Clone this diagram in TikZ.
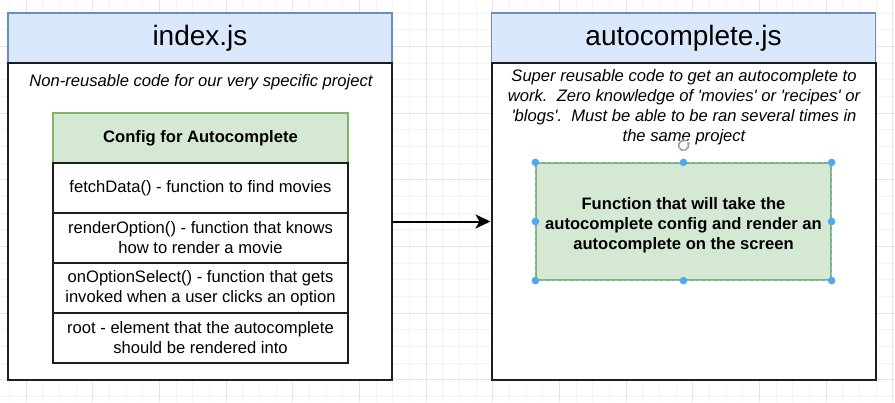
\documentclass[tikz,border=0pt]{standalone}
\usepackage{fontspec}
\setmainfont{Liberation Sans}
\usetikzlibrary{arrows.meta}
\definecolor{hdrblue}{HTML}{DAE8FC}
\definecolor{hdrblueline}{HTML}{6C8EBF}
\definecolor{cfggreen}{HTML}{D5E8D4}
\definecolor{cfggreenline}{HTML}{82B366}
\definecolor{handle}{HTML}{4DA9F2}
\definecolor{gridminor}{HTML}{F3F3F3}
\definecolor{gridmajor}{HTML}{E6E6E6}
\definecolor{boxline}{HTML}{1E1E1E}
\begin{document}
\begin{tikzpicture}[x=1pt,y=-1pt,
  hdr/.style={draw=hdrblueline, line width=1.2pt, fill=hdrblue, inner sep=0pt,
    minimum width=384pt, minimum height=50pt, font=\fontsize{28}{33}\selectfont},
  bodybox/.style={draw=boxline, line width=2pt, fill=white, inner sep=0pt,
    minimum width=384pt, minimum height=317pt},
  desc/.style={align=center, inner sep=0pt, font=\fontsize{16.6}{20}\selectfont\itshape},
  cfghdr/.style={draw=cfggreenline, line width=1.2pt, fill=cfggreen, inner sep=0pt,
    minimum width=295pt, minimum height=50pt, font=\fontsize{16.6}{20}\selectfont\bfseries},
  row/.style={draw=boxline, line width=1.5pt, fill=white, inner sep=0pt, align=center,
    minimum width=295pt, minimum height=50pt, font=\fontsize{16.6}{20}\selectfont},
  funcbox/.style={draw=cfggreenline, line width=1.2pt, fill=cfggreen, inner sep=0pt,
    minimum width=295pt, minimum height=117pt},
  functext/.style={align=center, inner sep=0pt, font=\fontsize{16.6}{20}\selectfont\bfseries},
  arr/.style={draw=black, line width=2pt, -{Stealth[length=15pt,width=14pt,inset=4pt]}},
  hdl/.style={fill=handle}
]
\useasboundingbox (0,0) rectangle (895,402);
\fill[white] (0,0) rectangle (895,402);
% grid
\foreach \i in {0,...,53} \draw[gridminor, line width=0.8pt] ({9.333+\i*16.6667},0) -- ({9.333+\i*16.6667},402);
\foreach \i in {0,...,24} \draw[gridminor, line width=0.8pt] (0,{-3.667+\i*16.6667}) -- (895,{-3.667+\i*16.6667});
\foreach \i in {0,...,13} \draw[gridmajor, line width=0.8pt] ({26+\i*66.6667},0) -- ({26+\i*66.6667},402);
\foreach \i in {0,...,5} \draw[gridmajor, line width=0.8pt] (0,{46.333+\i*66.6667}) -- (895,{46.333+\i*66.6667});

% left file
\node[hdr] (lhdr) at (200,38) {index.js};
\node[bodybox] (lbody) at (200,221.5) {};
\node[desc] (ldesc) at (201,82) {Non-reusable code for our very specific project};
\node[cfghdr] (cfg) at (200.5,138) {Config for Autocomplete};
\node[row] (r1) at (200.5,188) {fetchData() - function to find movies};
\node[row] (r2) at (200.5,238) {renderOption() - function that knows\\how to render a movie};
\node[row] (r3) at (200.5,288) {onOptionSelect() - function that gets\\invoked when a user clicks an option};
\node[row] (r4) at (200.5,338) {root - element that the autocomplete\\should be rendered into};

% right file
\node[hdr] (rhdr) at (683.5,38) {autocomplete.js};
\node[bodybox] (rbody) at (683.5,221.5) {};
\node[desc] (rdesc) at (684,107) {Super reusable code to get an autocomplete to\\work.\ \ Zero knowledge of \textquotesingle movies\textquotesingle\ or \textquotesingle recipes\textquotesingle\ or\\\textquotesingle blogs\textquotesingle.\ \ Must be able to be ran several times in\\the same project};
\node[funcbox] (fbox) at (683.5,221.5) {};
\node[functext] (ftext) at (683.5,225) {Function that will take the\\autocomplete config and render an\\autocomplete on the screen};
\draw[handle!70, line width=0.8pt, dash pattern=on 3pt off 3pt] (fbox.north west) rectangle (fbox.south east);
\foreach \a in {north west,north,north east,west,east,south west,south,south east}
  \fill[hdl] (fbox.\a) circle (3.8pt);
% rotate handle
\fill[white, opacity=0.6] ([yshift=17pt]fbox.north) circle (6pt);
\draw[gray!80, line width=1.4pt, -{Stealth[length=3pt,width=4pt]}] ([yshift=17pt]fbox.north) ++(70:5pt) arc (70:400:5pt);

% connector
\draw[arr] (lbody.east) -- (rbody.west);
\end{tikzpicture}
\end{document}
